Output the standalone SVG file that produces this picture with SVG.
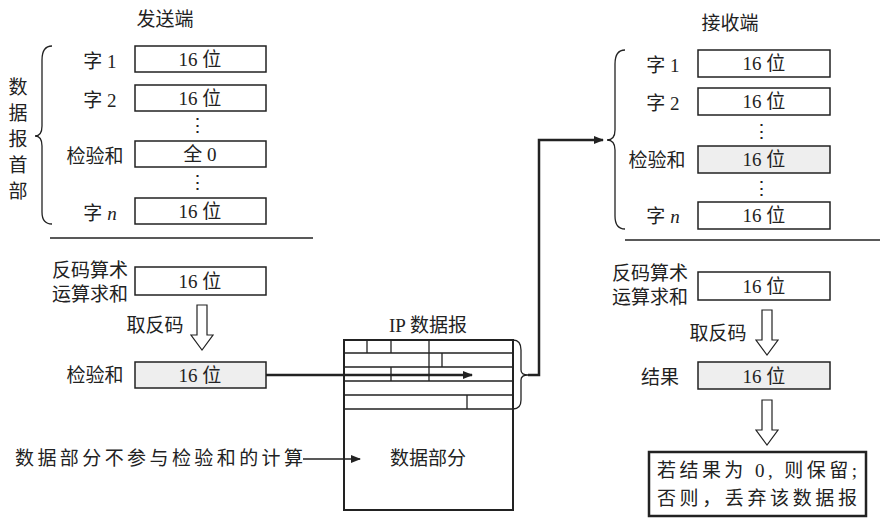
<svg xmlns="http://www.w3.org/2000/svg" width="890" height="524" viewBox="0 0 890 524">
<style>
text{font-family:"Liberation Serif","Noto Sans CJK SC",serif;font-size:19px;fill:#222}
.c{text-anchor:middle}
.b{fill:#fff;stroke:#222;stroke-width:1.5}
.s{fill:#eee;stroke:#222;stroke-width:1.5}
.l{fill:none;stroke:#222;stroke-width:1.3}
.h{fill:#fff;stroke:#222;stroke-width:1.2}
</style>
<defs><marker id="a" markerWidth="10" markerHeight="8" refX="9" refY="4" orient="auto" markerUnits="userSpaceOnUse"><path d="M0,0 L10,4 L0,8z" fill="#222"/></marker></defs>
<rect width="890" height="524" fill="#fff"/>
<g id="sender">
<text x="165" y="26" class="c">发送端</text>
<text x="18" y="94" class="c">数</text><text x="18" y="120" class="c">据</text><text x="18" y="146" class="c">报</text><text x="18" y="172" class="c">首</text><text x="18" y="198" class="c">部</text>
<path class="l" d="M52,46 Q42,46 42,60 L42,126 Q42,136 35,136 Q42,136 42,146 L42,212 Q42,224 52,224"/>
<text x="100" y="68" class="c">字 1</text><rect class="b" x="135" y="46" width="131" height="26"/><text x="200" y="66" class="c">16 位</text>
<text x="100" y="107" class="c">字 2</text><rect class="b" x="135" y="85" width="131" height="26"/><text x="200" y="105" class="c">16 位</text>
<text x="197" y="132" class="c">⋮</text>
<text x="95" y="163" class="c">检验和</text><rect class="b" x="135" y="141" width="131" height="26"/><text x="200" y="161" class="c">全 0</text>
<text x="197" y="189" class="c">⋮</text>
<text x="100" y="220" class="c">字 <tspan font-style="italic">n</tspan></text><rect class="b" x="135" y="198" width="131" height="26"/><text x="200" y="218" class="c">16 位</text>
<line class="l" x1="50" y1="238" x2="313" y2="238"/>
<text x="90" y="277" class="c">反码算术</text><text x="90" y="301" class="c">运算求和</text>
<rect class="b" x="135" y="267" width="131" height="28"/><text x="200" y="288" class="c">16 位</text>
<text x="155" y="332" class="c">取反码</text>
<path class="h" d="M197,305 L207,305 L207,335 L213,335 L202,350 L191,335 L197,335z"/>
<text x="95" y="382" class="c">检验和</text><rect class="s" x="135" y="362" width="131" height="26"/><text x="200" y="382" class="c">16 位</text>
</g>
<g id="ip">
<text x="428" y="332" class="c">IP 数据报</text>
<rect x="344" y="340" width="169" height="170" fill="#fff" stroke="#222" stroke-width="2"/>
<path class="l" d="M344,353H513M344,367H513M344,381H513M344,395H513M344,409H513M367,340V353M391,340V353M429,340V381M442,353V367M391,367V381M467,395V409"/>
<text x="428" y="465" class="c">数据部分</text>
<path class="l" d="M513,340 Q521,340 521,350 L521,370 Q521,375 528,375 Q521,375 521,380 L521,400 Q521,409 513,409"/>
</g>
<g id="receiver">
<text x="730" y="30" class="c">接收端</text>
<path class="l" d="M625,50 Q615,50 615,64 L615,130 Q615,140 607,140 Q615,140 615,150 L615,216 Q615,229 625,229"/>
<text x="663" y="72" class="c">字 1</text><rect class="b" x="698" y="50" width="132" height="27"/><text x="764" y="70" class="c">16 位</text>
<text x="663" y="110" class="c">字 2</text><rect class="b" x="698" y="88" width="132" height="27"/><text x="764" y="108" class="c">16 位</text>
<text x="761" y="138" class="c">⋮</text>
<text x="657" y="167" class="c">检验和</text><rect class="s" x="698" y="146" width="132" height="27"/><text x="764" y="166" class="c">16 位</text>
<text x="761" y="195" class="c">⋮</text>
<text x="663" y="223" class="c">字 <tspan font-style="italic">n</tspan></text><rect class="b" x="698" y="202" width="132" height="27"/><text x="764" y="222" class="c">16 位</text>
<line class="l" x1="625" y1="240" x2="880" y2="240"/>
<text x="650" y="280" class="c">反码算术</text><text x="650" y="304" class="c">运算求和</text>
<rect class="b" x="698" y="272" width="132" height="28"/><text x="764" y="293" class="c">16 位</text>
<text x="718" y="340" class="c">取反码</text>
<path class="h" d="M762,310 L772,310 L772,340 L778,340 L767,355 L756,340 L762,340z"/>
<text x="660" y="384" class="c">结果</text><rect class="s" x="698" y="362" width="132" height="27"/><text x="764" y="383" class="c">16 位</text>
<path class="h" d="M762,400 L772,400 L772,430 L778,430 L767,445 L756,430 L762,430z"/>
<rect x="649" y="452" width="217" height="64" fill="#fff" stroke="#222" stroke-width="2.5"/>
<text x="657" y="477" textLength="200">若结果为 0, 则保留;</text>
<text x="657" y="505" textLength="200">否则，丢弃该数据报</text>
</g>
<g id="connectors">
<line x1="266" y1="375" x2="472" y2="375" stroke="#222" stroke-width="2.5" marker-end="url(#a)"/>
<path d="M528,375 H539 V140 H603" fill="none" stroke="#222" stroke-width="2.5" marker-end="url(#a)"/>
<text x="15" y="465" textLength="288">数据部分不参与检验和的计算</text>
<line x1="303" y1="459" x2="360" y2="459" stroke="#222" stroke-width="1.3" marker-end="url(#a)"/>
</g>
</svg>
